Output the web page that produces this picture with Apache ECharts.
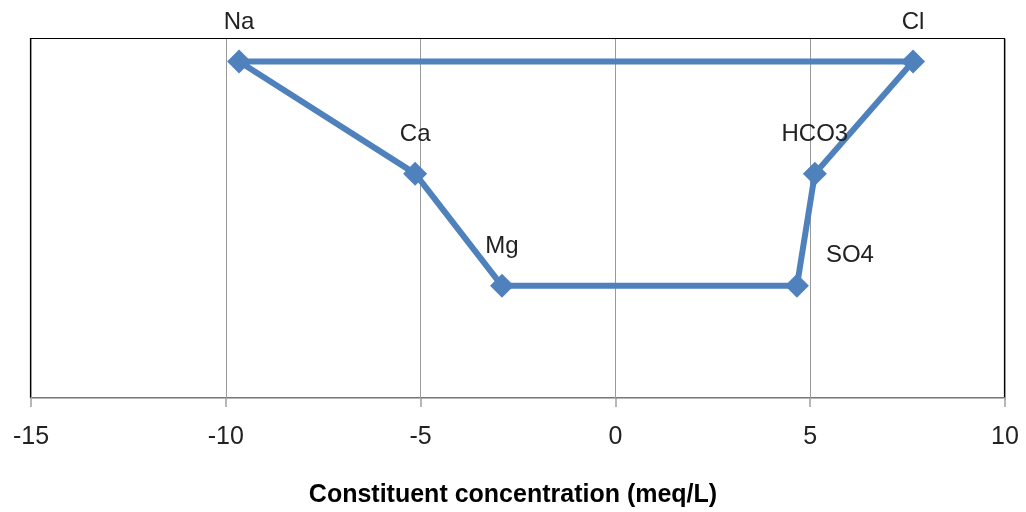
<!DOCTYPE html>
<html>
<head>
<meta charset="utf-8">
<script src="https://cdn.jsdelivr.net/npm/echarts@6/dist/echarts.min.js"></script>
<style>html,body{margin:0;padding:0;background:#fff}#c{width:1026px;height:512px}</style>
</head>
<body>
<div id="c"></div>
<script>
// Stiff diagram data (meq/L); cations plotted negative, anions positive
var cationNames = ['Na', 'Ca', 'Mg'];
var cationValues = [-9.66, -5.14, -2.91];
var anionNames = ['Cl', 'HCO3', 'SO4'];
var anionValues = [7.64, 5.12, 4.66];
var rowLevels = [3, 2, 1];
var xTicks = { min: -15, max: 10, interval: 5 };
var xTitle = 'Constituent concentration (meq/L)';

// polygon: cations top→bottom, anions bottom→top, close on first cation
var poly = [];
for (var i = 0; i < cationNames.length; i++) {
  poly.push({ name: cationNames[i], value: [cationValues[i], rowLevels[i]] });
}
for (var j = anionNames.length - 1; j >= 0; j--) {
  var item = { name: anionNames[j], value: [anionValues[j], rowLevels[j]] };
  if (anionNames[j] === 'SO4') item.label = { offset: [53, -30] };
  poly.push(item);
}
poly.push({ name: cationNames[0], value: [cationValues[0], rowLevels[0]], label: { show: false }, symbol: 'none' });

var chart = echarts.init(document.getElementById('c'), null, { renderer: 'canvas' });
chart.setOption({
  backgroundColor: '#fff',
  animation: false,
  title: {
    text: xTitle,
    left: 508, top: 478, textAlign: 'center',
    textStyle: { fontFamily: 'Liberation Sans', fontSize: 25, fontWeight: 'bold', color: '#000' }
  },
  grid: { left: 31, right: 21, top: 39, bottom: 114, show: false },
  graphic: [{
    type: 'rect', z: 1, silent: true,
    shape: { x: 30.5, y: 38.5, width: 974, height: 359 },
    style: { fill: 'none', stroke: '#000', lineWidth: 1.2 }
  }],
  xAxis: {
    type: 'value', min: xTicks.min, max: xTicks.max, interval: xTicks.interval,
    axisLine: { show: true, lineStyle: { color: '#a0a0a0', width: 1.5 } },
    axisTick: { show: true, length: 9, lineStyle: { color: '#a0a0a0', width: 1.5 } },
    splitLine: { show: true, lineStyle: { color: '#9a9a9a', width: 1 } },
    axisLabel: { margin: 27, fontFamily: 'Liberation Sans', fontSize: 25, color: '#222' },
    z: 2
  },
  yAxis: {
    type: 'value', min: 0, max: 3.2, show: false,
    splitLine: { show: false }
  },
  series: [{
    type: 'line',
    data: poly,
    symbol: 'diamond', symbolSize: 24,
    lineStyle: { color: '#4F81BD', width: 6 },
    itemStyle: { color: '#4F81BD' },
    label: {
      show: true, position: 'inside', offset: [0, -39],
      formatter: '{b}', color: '#222',
      fontFamily: 'Liberation Sans', fontSize: 24
    },
    z: 3
  }]
});
</script>
</body>
</html>
